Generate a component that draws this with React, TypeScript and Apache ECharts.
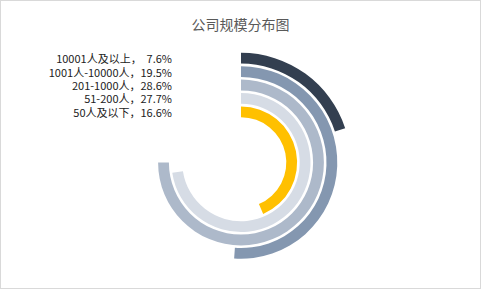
import React, { useEffect, useRef } from "react";
import * as echarts from "echarts";

const categories = ["50人及以下", "51-200人", "201-1000人", "1001人-10000人", "10001人及以上"];
const values = [16.6, 27.7, 28.6, 19.5, 7.6];
const labels = ["50人及以下，16.6%", "51-200人，27.7%", "201-1000人，28.6%", "1001人-10000人，19.5%", "10001人及以上，  7.6%"];
const colors = ["#FFC000", "#D6DCE5", "#ADB9CA", "#8497B0", "#333F50"];

export default function App() {
  const ref = useRef<HTMLDivElement>(null);
  useEffect(() => {
    if (!ref.current) return;
    const chart = echarts.init(ref.current, null, { renderer: "svg" });
    const maxV = Math.max(...values) * 4 / 3;
    chart.setOption({
      animation: false,
      title: {
        text: "公司规模分布图",
        left: "center",
        top: 11,
        textStyle: { fontSize: 14, fontWeight: "normal", color: "#595959", fontFamily: "Noto Sans CJK SC" },
      },
      polar: { center: [240, 161.5], radius: [44, 111] },
      angleAxis: {
        type: "value",
        min: 0,
        max: maxV,
        startAngle: 90,
        clockwise: true,
        show: false,
      },
      radiusAxis: {
        type: "category",
        data: categories,
        axisLine: { show: false },
        axisTick: { show: false },
        splitLine: { show: false },
        axisLabel: {
          interval: 0,
          margin: 69,
          fontSize: 11,
          lineHeight: 12,
          color: "#222",
          fontFamily: "Noto Sans CJK SC",
          formatter: (_v: string, i: number) => labels[i],
        },
      },
      series: [
        {
          type: "bar",
          coordinateSystem: "polar",
          data: values.map((v, i) => ({ value: v, itemStyle: { color: colors[i] } })),
          barWidth: 10.8,
        },
      ],
    });
    return () => chart.dispose();
  }, []);
  return (
    <div
      ref={ref}
      style={{
        position: "fixed",
        left: 0,
        top: 0,
        width: 481,
        height: 289,
        boxSizing: "border-box",
        border: "1px solid #d9d9d9",
        background: "#fff",
      }}
    />
  );
}
